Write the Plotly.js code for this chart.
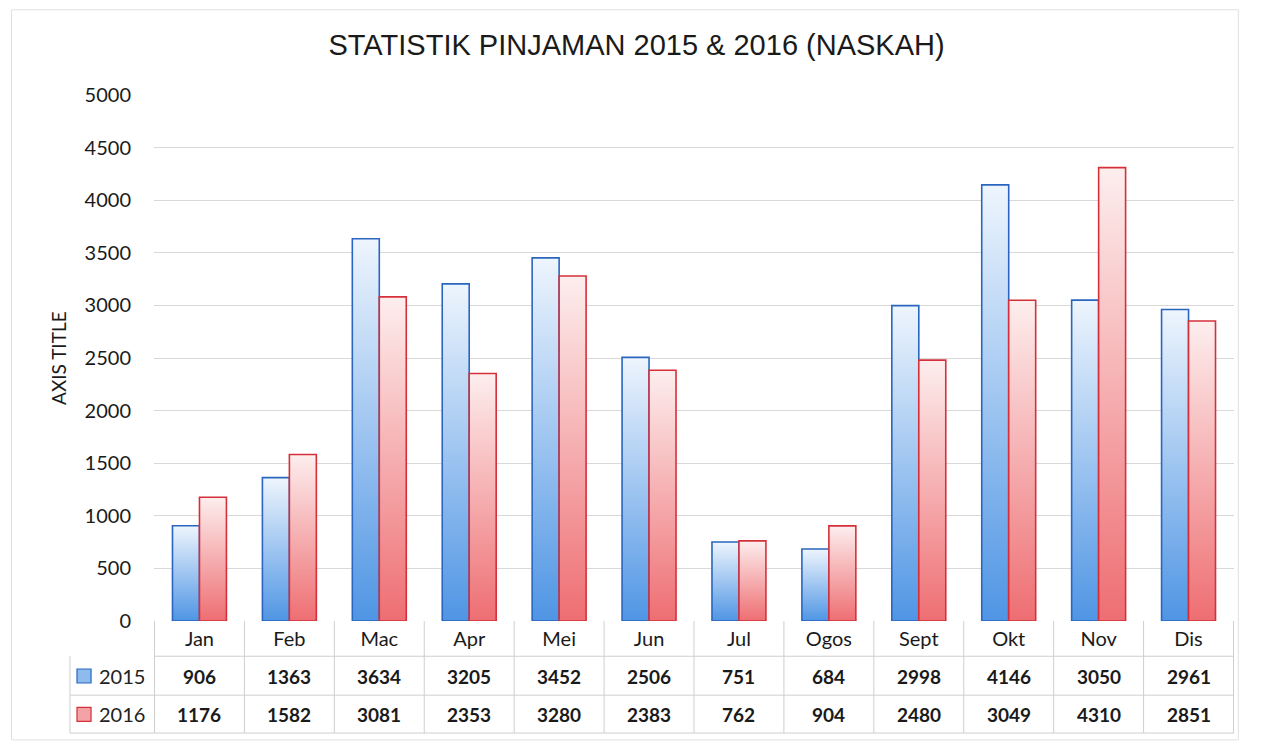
<!DOCTYPE html>
<html><head><meta charset="utf-8">
<script src="https://cdn.plot.ly/plotly-3.0.1.min.js"></script>
<style>html,body{margin:0;padding:0;background:#fff;}#chart{width:1263px;height:741px;}</style>
</head><body><div id="chart"></div>
<script>
const months = ["Jan","Feb","Mac","Apr","Mei","Jun","Jul","Ogos","Sept","Okt","Nov","Dis"];
const series2015 = [906,1363,3634,3205,3452,2506,751,684,2998,4146,3050,2961];
const series2016 = [1176,1582,3081,2353,3280,2383,762,904,2480,3049,4310,2851];
const seriesNames = ["2015","2016"];
const yTicks = [0,500,1000,1500,2000,2500,3000,3500,4000,4500,5000];

const blueLine = "#2a66bf", redLine = "#d5303a";
const traces = [
  {type:"bar", x:months, y:series2015, name:seriesNames[0],
   marker:{color:"#9cc3ef", line:{color:blueLine, width:1.6}}},
  {type:"bar", x:months, y:series2016, name:seriesNames[1],
   marker:{color:"#f5aeb0", line:{color:redLine, width:1.6}}}
];

const fam = "Lato, 'Open Sans', sans-serif";
const tableFont = {family:fam, size:19, color:"#1a1a1a", weight:"bold"};
const rowY = [-0.1046, -0.1776];
const annotations = [];
[series2015, series2016].forEach((arr, r) => {
  arr.forEach((v, i) => annotations.push({
    x: months[i], y: rowY[r], xref:"x", yref:"paper", text:String(v),
    showarrow:false, font:tableFont, xanchor:"center", yanchor:"middle"
  }));
  annotations.push({x:-0.0528, y:rowY[r], xref:"paper", yref:"paper", text:seriesNames[r],
    showarrow:false, font:{family:fam, size:20, color:"#222"}, xanchor:"left", yanchor:"middle"});
});
annotations.push({x:-0.0889, y:0.5, xref:"paper", yref:"paper", text:"AXIS TITLE", textangle:-90,
  showarrow:false, font:{family:fam, size:19, color:"#1a1a1a"}, xanchor:"center", yanchor:"middle"});

const shapes = [];
const gridCol = "#cfcfcf";
const left = -0.0778;
shapes.push({type:"line", xref:"paper", yref:"paper", x0:0, x1:1, y0:-0.067, y1:-0.067, line:{color:gridCol,width:1}});
shapes.push({type:"line", xref:"paper", yref:"paper", x0:left, x1:1, y0:-0.141, y1:-0.141, line:{color:gridCol,width:1}});
shapes.push({type:"line", xref:"paper", yref:"paper", x0:left, x1:1, y0:-0.213, y1:-0.213, line:{color:gridCol,width:1}});
for (let k = 0; k <= months.length; k++) {
  shapes.push({type:"line", xref:"x", yref:"paper", x0:k-0.5, x1:k-0.5, y0:0, y1:-0.213, line:{color:gridCol,width:1}});
}
shapes.push({type:"line", xref:"paper", yref:"paper", x0:left, x1:left, y0:-0.067, y1:-0.213, line:{color:gridCol,width:1}});
// legend keys
shapes.push({type:"rect", xref:"paper", yref:"paper", x0:-0.0713, x1:-0.0583, y0:rowY[0]-0.0133, y1:rowY[0]+0.0133,
  fillcolor:"#8dbbee", line:{color:blueLine,width:1.2}});
shapes.push({type:"rect", xref:"paper", yref:"paper", x0:-0.0713, x1:-0.0583, y0:rowY[1]-0.0133, y1:rowY[1]+0.0133,
  fillcolor:"#f3a2a5", line:{color:redLine,width:1.2}});
// outer chart border
shapes.push({type:"rect", xref:"paper", yref:"paper", x0:-0.132, x1:1.004, y0:-0.226, y1:1.162,
  line:{color:"#e0e0e0", width:1}, fillcolor:"rgba(0,0,0,0)"});

const layout = {
  width:1263, height:741,
  margin:{l:154, r:29, t:95, b:120},
  paper_bgcolor:"#fff", plot_bgcolor:"#fff",
  title:{text:"STATISTIK PINJAMAN 2015 & 2016 (NASKAH)", x:0.504, xanchor:"center", y:0.94, yanchor:"middle",
    font:{family:"'Liberation Sans', Arial, sans-serif", size:29, color:"#1a1a1a"}},
  showlegend:false,
  barmode:"group", bargap:0.4, bargroupgap:0,
  xaxis:{type:"category", showgrid:false, zeroline:false, showline:false, ticks:"",
    tickfont:{family:fam, size:20, color:"#1a1a1a"}, ticklabelstandoff:4},
  yaxis:{range:[0,5000], tickvals:yTicks, showgrid:true, gridcolor:"#d9d9d9", gridwidth:1,
    zeroline:false, showline:false, ticks:"", ticklabelstandoff:22,
    tickfont:{family:fam, size:20, color:"#1a1a1a"}},
  annotations:annotations, shapes:shapes
};

Plotly.newPlot("chart", traces, layout, {displayModeBar:false, staticPlot:true}).then(gd => {
  const svg = gd.querySelector("svg.main-svg");
  const ns = "http://www.w3.org/2000/svg";
  let defs = svg.querySelector("defs");
  if (!defs) { defs = document.createElementNS(ns,"defs"); svg.insertBefore(defs, svg.firstChild); }
  const mk = (id, top, bottom) => {
    const g = document.createElementNS(ns,"linearGradient");
    g.setAttribute("id", id); g.setAttribute("x1","0"); g.setAttribute("y1","0");
    g.setAttribute("x2","0"); g.setAttribute("y2","1");
    [[0,top],[1,bottom]].forEach(([o,c]) => {
      const s = document.createElementNS(ns,"stop");
      s.setAttribute("offset", o); s.setAttribute("stop-color", c); g.appendChild(s);
    });
    defs.appendChild(g);
  };
  mk("gBlue", "#eef5fd", "#4f95e4");
  mk("gRed", "#fdeeee", "#ee6e72");
  const groups = gd.querySelectorAll(".barlayer .trace");
  const ids = ["gBlue","gRed"];
  groups.forEach((tg, i) => {
    tg.querySelectorAll("path").forEach(p => { p.style.fill = "url(#" + ids[i] + ")"; });
  });
});
</script></body></html>
